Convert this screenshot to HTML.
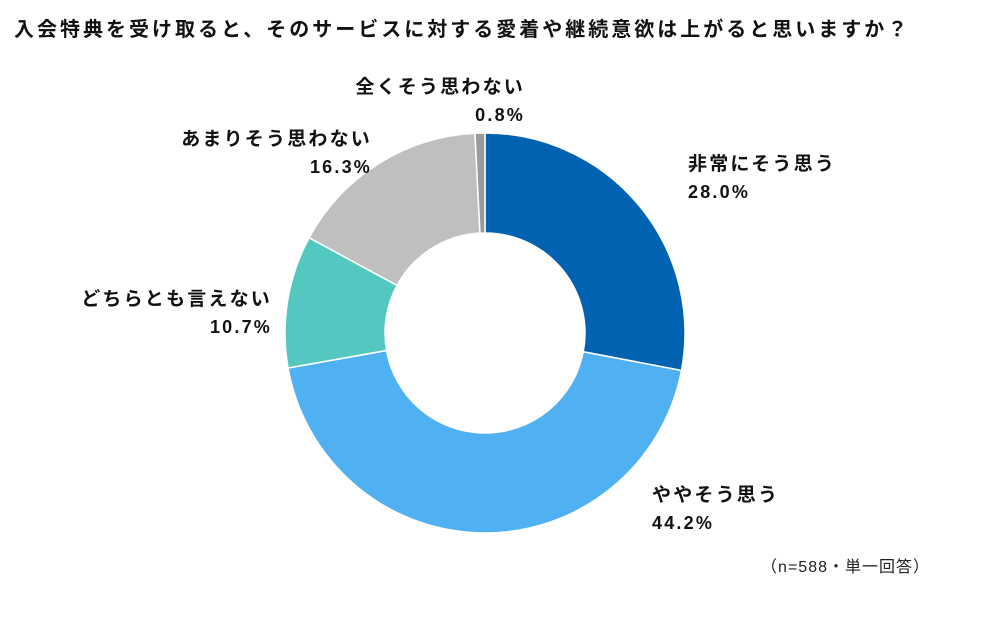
<!DOCTYPE html>
<html><head><meta charset="utf-8"><style>
body{margin:0;background:#fff;width:1000px;height:612px;overflow:hidden;font-family:"Liberation Sans","Noto Sans CJK JP",sans-serif;}
</style></head><body>
<svg width="1000" height="612">
<text x="14" y="36" font-size="20" font-weight="bold" letter-spacing="3.0" fill="#111">入会特典を受け取ると、そのサービスに対する愛着や継続意欲は上がると思いますか？</text>
<g id="slices"></g>
<g id="labels" font-weight="bold" fill="#111"></g>
<text x="930" y="572" text-anchor="end" font-size="16" letter-spacing="1" fill="#222">（n=588・単一回答）</text>
</svg>
<script>
const categories=["非常にそう思う","ややそう思う","どちらとも言えない","あまりそう思わない","全くそう思わない"];
const values=[28.0,44.2,10.7,16.3,0.8];
const colors=["#0062b1","#4fb0f2","#52c8c1","#bfbfbf","#9a9a9a"];
const cx=485,cy=333,R=200,r=100;
const NS="http://www.w3.org/2000/svg";
const total=values.reduce((a,b)=>a+b,0);
const g=document.getElementById('slices');
function pt(a,rad){return [cx+rad*Math.sin(a),cy-rad*Math.cos(a)];}
let a0=0;
values.forEach((v,i)=>{
  const a1=a0+v/total*2*Math.PI;
  const large=(a1-a0)>Math.PI?1:0;
  const p1=pt(a0,R),p2=pt(a1,R),p3=pt(a1,r),p4=pt(a0,r);
  const p=document.createElementNS(NS,'path');
  p.setAttribute('d',`M${p1}A${R},${R} 0 ${large} 1 ${p2}L${p3}A${r},${r} 0 ${large} 0 ${p4}Z`);
  p.setAttribute('fill',colors[i]);
  p.setAttribute('stroke','#fff');
  p.setAttribute('stroke-width','1.5');
  
  
  g.appendChild(p);
  a0=a1;
});
const lab=[[688,170,'start'],[652,501,'start'],[272,305,'end'],[372,145,'end'],[525,93,'end']];
const L=document.getElementById('labels');
categories.forEach((c,i)=>{
  const [x,y,anc]=lab[i];
  const t=document.createElementNS(NS,'text');
  t.setAttribute('x',x);t.setAttribute('y',y);t.setAttribute('text-anchor',anc);
  t.setAttribute('font-size','19');t.setAttribute('letter-spacing','2.2');
  t.textContent=c;
  
  
  L.appendChild(t);
  const t2=document.createElementNS(NS,'text');
  t2.setAttribute('x',x);t2.setAttribute('y',y+28);t2.setAttribute('text-anchor',anc);
  t2.setAttribute('font-size','18');t2.setAttribute('letter-spacing','2.2');
  t2.textContent=values[i].toFixed(1)+'%';
  
  
  L.appendChild(t2);
});
</script>
</body></html>
